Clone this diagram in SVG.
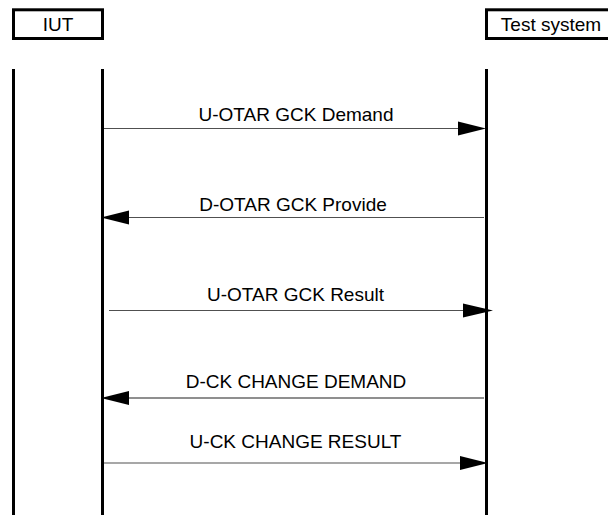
<svg xmlns="http://www.w3.org/2000/svg" width="608" height="515" viewBox="0 0 608 515">
<style>
.box{fill:#fff;stroke:#000;stroke-width:3}
.life{stroke:#000;stroke-width:3;fill:none}
.msg{stroke:#505050;stroke-width:1.2;fill:none}
.head{fill:#000;stroke:none}
text{font-family:"Liberation Sans",Arial,sans-serif;font-size:19px;fill:#000;text-anchor:middle}
</style>
<rect width="608" height="515" fill="#fff"/>
<g id="iut">
<rect class="box" x="13.5" y="9.8" width="89" height="28.7"/>
<text x="58" y="31">IUT</text>
<line class="life" x1="13.5" y1="69" x2="13.5" y2="515"/>
<line class="life" x1="102.5" y1="69" x2="102.5" y2="515"/>
</g>
<g id="test-system">
<rect class="box" x="486.5" y="9.8" width="130" height="28.7"/>
<text x="551" y="31">Test system</text>
<line class="life" x1="486.5" y1="69" x2="486.5" y2="515"/>
</g>
<g id="connectors">
<g id="m1">
<line class="msg" x1="104" y1="128.5" x2="460" y2="128.5"/>
<polygon class="head" points="486,128.5 458,121.5 458,135.5"/>
<text x="296" y="121">U-OTAR GCK Demand</text>
</g>
<g id="m2">
<line class="msg" x1="484" y1="217.5" x2="127" y2="217.5"/>
<polygon class="head" points="101,217.5 129,210.5 129,224.5"/>
<text x="293" y="211">D-OTAR GCK Provide</text>
</g>
<g id="m3">
<line class="msg" x1="109" y1="310.5" x2="465" y2="310.5"/>
<polygon class="head" points="493,310.5 463,303.5 463,317.5"/>
<text x="295.5" y="301">U-OTAR GCK Result</text>
</g>
<g id="m4">
<line class="msg" x1="484" y1="398" x2="127" y2="398" style="stroke:#202020"/>
<polygon class="head" points="101,398 129,391 129,405"/>
<text x="296" y="388">D-CK CHANGE DEMAND</text>
</g>
<g id="m5">
<line class="msg" x1="104" y1="463" x2="462" y2="463"/>
<polygon class="head" points="488,463 460,456 460,470"/>
<text x="295.5" y="448">U-CK CHANGE RESULT</text>
</g>
</g>
</svg>
